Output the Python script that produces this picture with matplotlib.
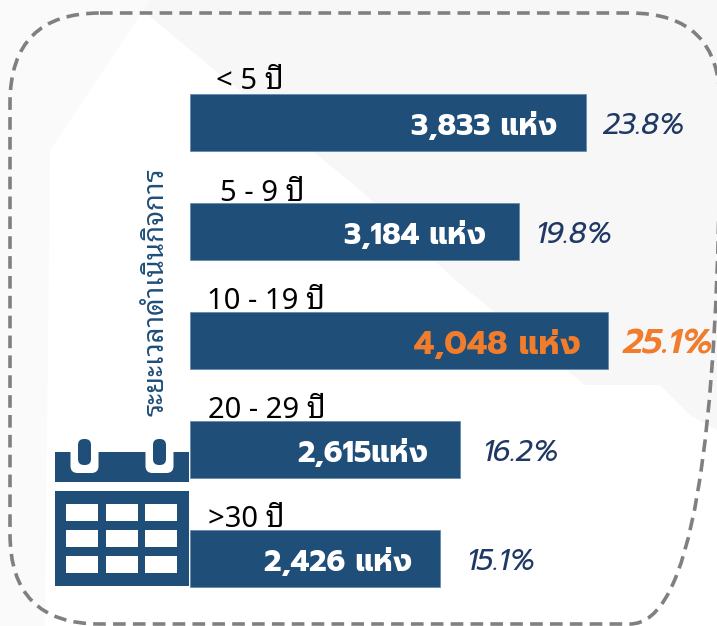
import matplotlib
matplotlib.use("Agg")
import matplotlib.pyplot as plt
from matplotlib.patches import FancyBboxPatch, Polygon, Rectangle

#--- data ---------------------------------------------------------------------
age_labels   = ["< 5 ปี", "5 - 9 ปี", "10 - 19 ปี", "20 - 29 ปี", ">30 ปี"]
firm_counts  = [3833, 3184, 4048, 2615, 2426]
count_labels = ["3,833 แห่ง", "3,184 แห่ง", "4,048 แห่ง", "2,615แห่ง", "2,426 แห่ง"]
share_labels = ["23.8%", "19.8%", "25.1%", "16.2%", "15.1%"]
axis_title   = "ระยะเวลาดำเนินกิจการ"

#--- layout (pixels of the 717x626 picture) ------------------------------------
W, H      = 717, 626
BAR_X0    = 190
PX_UNIT   = 0.1032    # px per establishment
ROW_Y0    = 122.5
ROW_STEP  = 109.0
BAR_H     = 0.527

age_x      = [216, 220, 207, 208, 208]
age_base   = [89, 201, 309, 418, 527]
count_end  = [29, 33, 27, 32, 28]     # gap from text end to bar end
share_gap  = [17, 17, 15, 22, 26]     # gap from bar end to text

BLUE   = "#1F4E79"
NAVY   = "#1F3864"
ORANGE = "#F07C2C"
GREY   = "#808080"
HILITE = 2

fig = plt.figure(figsize=(W/100, H/100), dpi=100)
fig.patch.set_facecolor("white")

# pixel axes for the decoration
deco = fig.add_axes([0, 0, 1, 1])
deco.set_xlim(0, W)
deco.set_ylim(H, 0)
deco.axis("off")

# faint background texture
for pts, col in [
    ([(130, 0), (717, 0), (717, 430), (690, 415), (660, 385), (585, 385),
      (455, 280), (360, 190)], "#F7F7F7"),
    ([(0, 0), (150, 0), (50, 150), (45, 626), (0, 626)], "#FAFAFA"),
]:
    deco.add_patch(Polygon(pts, closed=True, fc=col, ec="none", zorder=0))

# dashed frame, runs off to the right edge
frame = FancyBboxPatch((100, 103), 530, 431,
                       boxstyle="round,pad=90,rounding_size=90",
                       fc="none", ec=GREY, lw=2.6, ls=(0, (3.5, 2.0)),
                       capstyle="butt", clip_on=False, zorder=1)
deco.add_patch(frame)

# calendar icon
deco.add_patch(Rectangle((55, 452), 134, 30, fc=BLUE, ec="none", zorder=2))
deco.add_patch(Rectangle((55, 491), 134, 95, fc=BLUE, ec="none", zorder=2))
for cx in (84.5, 159.5):
    deco.add_patch(FancyBboxPatch((cx-7, 452), 14, 14,
                                  boxstyle="round,pad=7,rounding_size=7",
                                  fc="white", ec="none", zorder=3))
    deco.add_patch(FancyBboxPatch((cx-0.5, 445), 1, 14,
                                  boxstyle="round,pad=6,rounding_size=6",
                                  fc=BLUE, ec="none", zorder=4))
for cell_x in (66, 106, 145):
    for cell_y in (504, 530, 556):
        deco.add_patch(Rectangle((cell_x, cell_y), 32, 17, fc="white", ec="none", zorder=3))

# chart axes: covers the figure, data scale set so that 0 is at x=190
ax = fig.add_axes([0, 0, 1, 1])
ax.patch.set_alpha(0)
ax.set_xlim(-BAR_X0/PX_UNIT, (W-BAR_X0)/PX_UNIT)
ax.set_ylim((H-ROW_Y0)/ROW_STEP, -ROW_Y0/ROW_STEP)
ax.axis("off")

rows = list(range(len(firm_counts)))
ax.barh(rows, firm_counts, height=BAR_H, color=BLUE, edgecolor="#5F86A8", linewidth=0.5)

count_font = ["Prompt", "Noto Sans Thai"]
for i in rows:
    hot = i == HILITE
    ax.annotate(count_labels[i], (firm_counts[i], i), xytext=(-count_end[i]*0.72, -1),
                textcoords="offset points", ha="right", va="center_baseline",
                color=ORANGE if hot else "white", fontsize=23.5 if hot else 21.5,
                fontweight="bold", family=count_font)
    ax.annotate(share_labels[i], (firm_counts[i], i), xytext=(share_gap[i]*0.72, 0),
                textcoords="offset points", ha="left", va="center_baseline",
                color=ORANGE if hot else NAVY, fontsize=25 if hot else 21,
                fontstyle="italic", family=count_font,
                fontweight="semibold" if hot else "normal")
    deco.text(age_x[i], age_base[i], age_labels[i], ha="left", va="baseline", color="black",
              fontsize=21, family=["Noto Sans Thai Looped", "Noto Sans"], zorder=6)

deco.text(156, 292, axis_title, rotation=90, ha="center", va="center", color=BLUE,
          fontsize=19.8, family=["Noto Sans Thai Looped", "Noto Sans"], zorder=6)

fig.savefig("out.png", dpi=100)
